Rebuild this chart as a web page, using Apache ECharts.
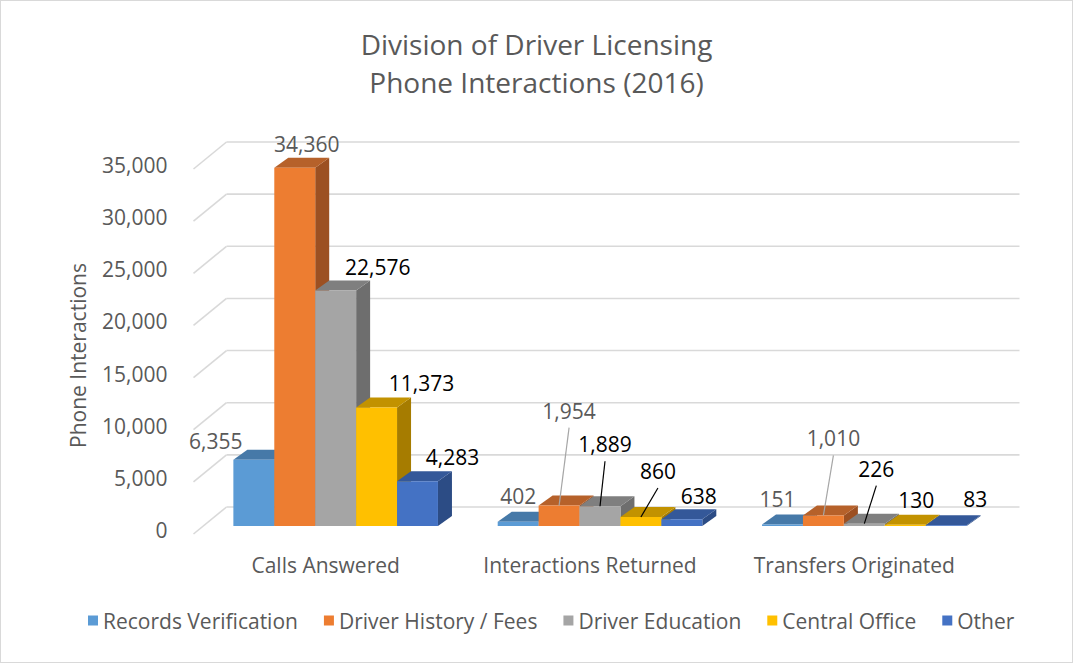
<!DOCTYPE html>
<html>
<head>
<meta charset="utf-8">
<title>Division of Driver Licensing Phone Interactions (2016)</title>
<script src="https://cdn.jsdelivr.net/npm/echarts@6/dist/echarts.min.js"></script>
<style>
  html, body { margin: 0; padding: 0; background: #fff; }
  #main { width: 1071px; height: 661px; border: 1px solid #d9d9d9; }
</style>
</head>
<body>
<div id="main"></div>
<script>
// chart data
var categories = ['Calls Answered', 'Interactions Returned', 'Transfers Originated'];
var seriesNames = ['Records Verification', 'Driver History / Fees', 'Driver Education', 'Central Office', 'Other'];
var recordsVerification = [6355, 402, 151];
var driverHistoryFees = [34360, 1954, 1010];
var driverEducation = [22576, 1889, 226];
var centralOffice = [11373, 860, 130];
var other = [4283, 638, 83];
var yTicks = [0, 5000, 10000, 15000, 20000, 25000, 30000, 35000];

var values = [recordsVerification, driverHistoryFees, driverEducation, centralOffice, other];

// styling
var colors = ['#5B9BD5', '#ED7D31', '#A5A5A5', '#FFC000', '#4472C4'];
var topColors = ['#4679A8', '#B6612A', '#7F7F7F', '#C29200', '#345899'];
var sideColors = ['#3D6A94', '#9C5022', '#6E6E6E', '#A67C00', '#2C4C85'];
var labelColors = ['#595959', '#595959', '#000000', '#000000', '#000000'];
var leaderColors = ['#A6A6A6', '#A6A6A6', '#000000', '#000000', '#000000'];
// label offsets from the bar top (dx, dy, leader line?)
var labelOffsets = [
  [[-38, -19, 0], [0, -26, 0], [-5, -25, 0]],
  [[12, -24, 0], [10, -95, 1], [10, -77, 1]],
  [[42, -24, 0], [5, -62, 1], [12, -55, 1]],
  [[45, -24, 0], [17, -46, 1], [11, -25, 0]],
  [[35, -24, 0], [17, -23, 0], [29, -26, 0]]
];
var FONT = '"Open Sans", Lato, sans-serif';
var FS = 21;
var depth = [14, -10];      // bar depth
var wallOff = [23, -19];    // back wall from bar plane
var frontOff = [-10, 8];    // front floor edge from bar plane

var myChart = echarts.init(document.getElementById('main'), null, { renderer: 'svg' });

// back wall gridlines, left wall diagonals and value labels
function gridRender(params, api) {
  var cs = params.coordSys;
  var v = api.value(1);
  var y = api.coord([0, v])[1];
  var lineStyle = { stroke: '#D9D9D9', lineWidth: 1.6 };
  return {
    type: 'group',
    children: [
      {
        type: 'line',
        shape: { x1: cs.x + wallOff[0], y1: y + wallOff[1], x2: cs.x + cs.width + wallOff[0], y2: y + wallOff[1] },
        style: lineStyle
      },
      {
        type: 'line',
        shape: { x1: cs.x + wallOff[0], y1: y + wallOff[1], x2: cs.x + frontOff[0], y2: y + frontOff[1] },
        style: lineStyle
      },
      {
        type: 'text',
        x: cs.x - 36,
        y: y + 4,
        style: {
          text: echarts.format.addCommas(v),
          fill: '#595959',
          font: FS + 'px ' + FONT,
          align: 'right',
          verticalAlign: 'middle'
        }
      }
    ]
  };
}

function makeBarRender(si) {
  return function (params, api) {
    var c = api.value(0);
    var v = api.value(1);
    var base = api.coord([c, 0]);
    var top = api.coord([c, v]);
    var band = api.size([1, 0])[0];
    var groupW = band * 0.774;
    var w = groupW / 5;
    var x0 = base[0] - groupW / 2 + si * w;
    var x1 = x0 + w;
    var yT = top[1];
    var yB = base[1];
    var dx = depth[0], dy = depth[1];
    var off = labelOffsets[si][c];
    var cx = x0 + w / 2;
    var lx = cx + off[0];
    var ly = yT + off[1];
    var children = [
      {
        type: 'polygon',
        shape: { points: [[x1, yT], [x1 + dx, yT + dy], [x1 + dx, yB + dy], [x1, yB]] },
        style: { fill: sideColors[si] }
      },
      {
        type: 'polygon',
        shape: { points: [[x0, yT], [x1, yT], [x1 + dx, yT + dy], [x0 + dx, yT + dy]] },
        style: { fill: topColors[si] }
      },
      {
        type: 'rect',
        shape: { x: x0, y: yT, width: w, height: yB - yT },
        style: { fill: colors[si] }
      }
    ];
    if (off[2]) {
      children.push({
        type: 'line',
        shape: { x1: lx, y1: ly + 17, x2: cx, y2: yT },
        style: { stroke: leaderColors[si], lineWidth: 1.2 }
      });
    }
    children.push({
      type: 'text',
      x: lx,
      y: ly,
      style: {
        text: echarts.format.addCommas(v),
        fill: labelColors[si],
        font: FS + 'px ' + FONT,
        align: 'center',
        verticalAlign: 'middle'
      }
    });
    return { type: 'group', children: children };
  };
}

var series = [
  {
    type: 'custom',
    name: 'grid',
    renderItem: gridRender,
    silent: true,
    data: yTicks.map(function (t) { return [0, t]; }),
    z: 1
  }
];
seriesNames.forEach(function (name, i) {
  series.push({
    type: 'custom',
    name: name,
    renderItem: makeBarRender(i),
    itemStyle: { color: colors[i] },
    data: values[i].map(function (v, c) { return [c, v]; }),
    z: 2
  });
});

var option = {
  backgroundColor: '#fff',
  animation: false,
  title: {
    text: 'Division of Driver Licensing\nPhone Interactions (2016)',
    left: 'center',
    top: 19,
    textStyle: {
      color: '#595959',
      fontFamily: FONT,
      fontWeight: 'normal',
      fontSize: 28,
      lineHeight: 38
    }
  },
  legend: {
    data: seriesNames,
    bottom: 26,
    left: 82,
    icon: 'rect',
    itemWidth: 10,
    itemHeight: 10,
    itemGap: 26,
    textStyle: { color: '#595959', fontSize: FS, fontFamily: FONT }
  },
  grid: {
    left: 202.5,
    right: 75.5,
    top: 160,
    bottom: 136
  },
  xAxis: {
    type: 'category',
    data: categories,
    axisLine: { show: false },
    axisTick: { show: false },
    splitLine: { show: false },
    axisLabel: {
      interval: 0,
      margin: 28,
      padding: [0, 20, 0, 0],
      color: '#595959',
      fontSize: FS,
      fontFamily: FONT
    }
  },
  yAxis: {
    type: 'value',
    min: 0,
    max: 35000,
    interval: 5000,
    name: 'Phone Interactions',
    nameLocation: 'middle',
    nameGap: 115,
    nameTextStyle: { color: '#595959', fontSize: FS, fontFamily: FONT, padding: [0, 24, 0, 0] },
    axisLine: { show: false },
    axisTick: { show: false },
    splitLine: { show: false },
    axisLabel: { show: false }
  },
  series: series
};

myChart.setOption(option);
</script>
</body>
</html>
